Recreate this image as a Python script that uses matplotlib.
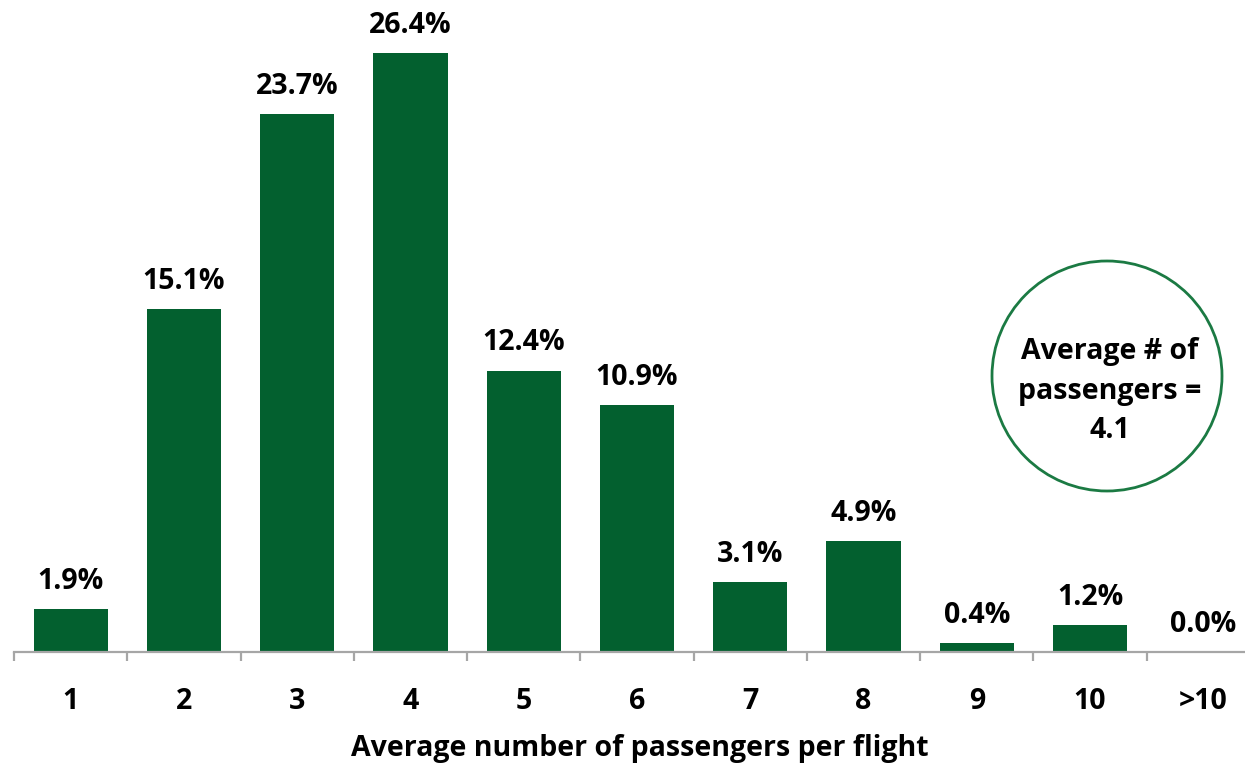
import matplotlib.pyplot as plt
from matplotlib.patches import Ellipse

categories = ['1', '2', '3', '4', '5', '6', '7', '8', '9', '10', '>10']
shares = [1.9, 15.1, 23.7, 26.4, 12.4, 10.9, 3.1, 4.9, 0.4, 1.2, 0.0]
average_passengers = 4.1

plt.rcParams['font.family'] = ['Open Sans', 'DejaVu Sans']
plt.rcParams['font.weight'] = 'bold'

W, H = 1245, 764
fig = plt.figure(figsize=(W / 100, H / 100), dpi=100)

# axes placed in pixel terms; the right end runs past the image like the original
left, right, bottom, top = 14, 1260, 652, 3
ax = fig.add_axes([left / W, (H - bottom) / H, (right - left) / W, (bottom - top) / H])

bar_green = '#03602F'
x = list(range(len(categories)))
ax.bar(x, shares, width=0.655, color=bar_green, zorder=2)
ax.set_xlim(-0.5, len(categories) - 0.5)
ax.set_ylim(0, 28.6)

fs = 20.5
for xi, v in zip(x, shares):
    ax.annotate(f'{v:.1f}%', (xi, v), xytext=(0, 14.5), textcoords='offset points',
                ha='center', va='baseline', fontsize=fs, fontweight='bold')

for side in ['left', 'right', 'top']:
    ax.spines[side].set_visible(False)
ax.spines['bottom'].set_color('#A6A6A6')
ax.spines['bottom'].set_linewidth(1.6)
ax.set_yticks([])

ax.set_xticks(x)
ax.set_xticklabels(categories, fontsize=fs, fontweight='bold')
ax.tick_params(axis='x', which='major', length=0, pad=25)
ax.set_xticks([i - 0.5 for i in range(len(categories) + 1)], minor=True)
ax.tick_params(axis='x', which='minor', length=6.5, width=1.6, color='#A6A6A6')

fig.text(640 / W, 1 - 756 / H, 'Average number of passengers per flight',
         ha='center', va='baseline', fontsize=fs, fontweight='bold')

# callout circle with the mean
cx, cy, r = 1107, 376, 115
fig.patches.append(Ellipse((cx / W, 1 - cy / H), 2 * r / W, 2 * r / H,
                           transform=fig.transFigure, facecolor='white',
                           edgecolor='#1B7A43', linewidth=2))
fig.text(1110 / W, 1 - 391 / H, f'Average # of\npassengers =\n{average_passengers}',
         ha='center', va='center', fontsize=fs, fontweight='bold', linespacing=1.47)

fig.savefig('out.png', dpi=100)
